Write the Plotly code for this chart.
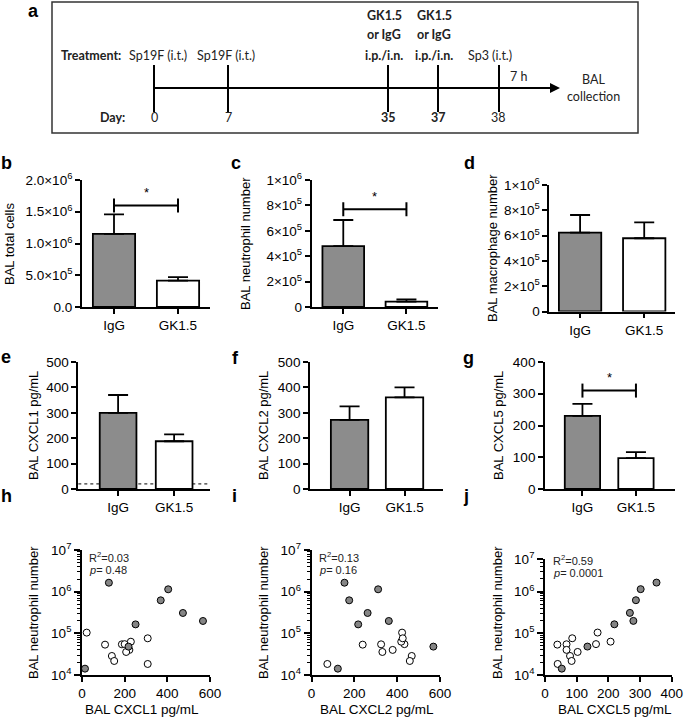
import plotly.graph_objects as go

W, H = 685, 717


def PX(x):
    return x / W


def PY(y):
    return 1 - y / H


FONT = "Liberation Sans, Arial, sans-serif"
FONT_A = "Lato, Open Sans, sans-serif"

# ---------------- data ----------------
groups = ["IgG", "GK1.5"]
bar_fill = ["#8c8c8c", "#ffffff"]

total_cells_mean = [1.15e6, 0.415e6]
total_cells_sem = [0.31e6, 0.055e6]
neutrophil_mean = [0.48e6, 0.042e6]
neutrophil_sem = [0.205e6, 0.018e6]
macrophage_mean = [0.623e6, 0.579e6]
macrophage_sem = [0.14e6, 0.126e6]
cxcl1_mean = [300, 188]
cxcl1_sem = [70, 27]
cxcl2_mean = [272, 361]
cxcl2_sem = [53, 39]
cxcl5_mean = [230, 97]
cxcl5_sem = [38, 19]
cxcl1_detection_limit = 20

# significance brackets (bracket height)
sig_total_cells = 1.6e6
sig_neutrophil = 0.77e6
sig_cxcl5 = 310

# scatter: IgG (filled) and GK1.5 (open) mice
igg_neut = [1.64e6, 1.14e6, 6.2e5, 3.08e5, 1.98e5, 1.64e5, 4.8e4, 1.42e4]
igg_cxcl1 = [126, 404, 369, 473, 567, 251, 218, 14]
igg_cxcl2 = [154, 311, 176, 262, 361, 218, 569, 123]
igg_cxcl5 = [352, 302, 287, 268, 279, 219, 134, 53]

gk_neut = [1.04e5, 5.35e4, 2.86e4, 2.17e4, 5.45e4, 5.5e4, 6.3e4, 4.0e4, 3.57e4, 7.6e4, 1.84e4]
gk_cxcl1 = [22, 108, 140, 151, 187, 200, 229, 222, 207, 308, 308]
gk_cxcl2 = [423, 239, 468, 459, 325, 434, 419, 379, 331, 426, 74]
gk_cxcl5 = [166, 39, 79, 84, 68, 161, 207, 68, 103, 86, 40]

stats_h = ("0.03", "0.48")
stats_i = ("0.13", "0.16")
stats_j = ("0.59", "0.0001")

# timeline (panel a)
timeline_days = ["0", "7", "35", "37", "38"]
timeline_bold = [False, False, True, True, False]
timeline_x = [154, 228, 388, 438, 499]

fig = go.Figure()
layout = dict(
    template="none",
    width=W, height=H, margin=dict(l=0, r=0, t=0, b=0, pad=0), autosize=False,
    paper_bgcolor="white", plot_bgcolor="rgba(0,0,0,0)",
    showlegend=False, font=dict(family=FONT, color="black", size=13.5),
)

shapes = []
annotations = []

AXLINE = 1.8


def base_axis(dom, rng):
    return dict(domain=dom, range=rng, showline=True, linecolor="black", linewidth=AXLINE,
                ticks="outside", ticklen=5, tickwidth=1.5, tickcolor="black",
                showgrid=False, zeroline=False, fixedrange=True, automargin=False,
                tickfont=dict(family=FONT, size=13.5, color="black"))


def sfx(n):
    return "" if n == 1 else str(n)


def note(x, y, text, size, family=FONT, angle=0, xanchor="center", color="black"):
    annotations.append(dict(x=PX(x), y=PY(y), xref="paper", yref="paper", text=text,
                            textangle=angle, showarrow=False, xanchor=xanchor, yanchor="middle",
                            font=dict(size=size, family=family, color=color)))


def bar_panel(n, xpx, ypx, xr, yr, bw, mean, sem, tickvals, ticktext):
    s = sfx(n)
    fig.add_trace(go.Bar(
        x=[0, 1], y=mean, width=bw,
        marker=dict(color=bar_fill, line=dict(color="black", width=1.8)),
        error_y=dict(type="data", array=sem, arrayminus=[0, 0], symmetric=False,
                     color="black", thickness=1.8, width=10),
        xaxis="x" + s, yaxis="y" + s, hoverinfo="skip"))
    xa = base_axis([PX(xpx[0]), PX(xpx[1])], xr)
    xa.update(tickmode="array", tickvals=[0, 1], ticktext=groups, anchor="y" + s)
    ya = base_axis([PY(ypx[1]), PY(ypx[0])], yr)
    ya.update(tickmode="array", tickvals=tickvals, ticktext=ticktext, anchor="x" + s)
    layout["xaxis" + s] = xa
    layout["yaxis" + s] = ya


def sig_bracket(n, yv, shift=13):
    s = sfx(n)
    fig.add_trace(go.Scatter(
        x=[0, 1], y=[yv, yv], mode="lines+markers",
        line=dict(color="black", width=2),
        marker=dict(symbol="line-ns", size=10, line=dict(color="black", width=2)),
        xaxis="x" + s, yaxis="y" + s, hoverinfo="skip"))
    annotations.append(dict(x=0.5, y=yv, xref="x" + s, yref="y" + s, text="*",
                            xanchor="center", yanchor="middle",
                            showarrow=False, yshift=shift, font=dict(size=13)))


def sci(m, e):
    return f"{m}×10<sup>{e}</sup>"


bar_panel(1, (82, 210), (180, 307), [-0.5, 1.5], [0, 2e6], 0.66, total_cells_mean, total_cells_sem,
          [0, 5e5, 1e6, 1.5e6, 2e6], ["0.0", sci("5.0", 5), sci("1.0", 6), sci("1.5", 6), sci("2.0", 6)])
bar_panel(2, (311.7, 438), (180, 307), [-0.5, 1.5], [0, 1e6], 0.66, neutrophil_mean, neutrophil_sem,
          [0, 2e5, 4e5, 6e5, 8e5, 1e6], ["0", sci(2, 5), sci(4, 5), sci(6, 5), sci(8, 5), sci(1, 6)])
bar_panel(3, (549.3, 675), (185, 311.5), [-0.48, 1.48], [0, 1e6], 0.66, macrophage_mean, macrophage_sem,
          [0, 2e5, 4e5, 6e5, 8e5, 1e6], ["0", sci(2, 5), sci(4, 5), sci(6, 5), sci(8, 5), sci(1, 6)])
bar_panel(4, (78.3, 210), (362, 489), [-0.71, 1.64], [0, 500], 0.655, cxcl1_mean, cxcl1_sem,
          [0, 100, 200, 300, 400, 500], ["0", "100", "200", "300", "400", "500"])
bar_panel(5, (310, 443), (362, 489), [-0.72, 1.70], [0, 500], 0.68, cxcl2_mean, cxcl2_sem,
          [0, 100, 200, 300, 400, 500], ["0", "100", "200", "300", "400", "500"])
bar_panel(6, (545, 675), (362, 489), [-0.70, 1.73], [0, 400], 0.66, cxcl5_mean, cxcl5_sem,
          [0, 100, 200, 300, 400], ["0", "100", "200", "300", "400"])

sig_bracket(1, sig_total_cells)
sig_bracket(2, sig_neutrophil)
sig_bracket(6, sig_cxcl5)

# detection limit in panel e
shapes.append(dict(type="line", xref="x4 domain", yref="y4", x0=0, x1=1,
                   y0=cxcl1_detection_limit, y1=cxcl1_detection_limit,
                   line=dict(color="black", width=1, dash="dot"), layer="below"))

# ---------------- scatter panels ----------------
minor_vals = [k * 10 ** e for e in (4, 5, 6) for k in range(2, 10)]


def scatter_panel(n, xpx, ypx, xr, xticks, xigg, xgk, ytop=7.0, toplabel=7):
    s = sfx(n)
    fig.add_trace(go.Scatter(x=xgk, y=gk_neut, mode="markers",
                             marker=dict(size=7, color="white", line=dict(color="black", width=1)),
                             xaxis="x" + s, yaxis="y" + s, hoverinfo="skip"))
    fig.add_trace(go.Scatter(x=xigg, y=igg_neut, mode="markers",
                             marker=dict(size=7, color="#858585", line=dict(color="black", width=1)),
                             xaxis="x" + s, yaxis="y" + s, hoverinfo="skip"))
    xa = base_axis([PX(xpx[0]), PX(xpx[1])], xr)
    xa.update(tickmode="array", tickvals=xticks, ticktext=[str(v) for v in xticks], anchor="y" + s)
    ya = base_axis([PY(ypx[1]), PY(ypx[0])], [4, ytop])
    ya.update(type="log", tickmode="array",
              tickvals=[1e4, 1e5, 1e6, 10 ** ytop],
              ticktext=["10<sup>4</sup>", "10<sup>5</sup>", "10<sup>6</sup>", f"10<sup>{toplabel}</sup>"],
              ticklen=6, anchor="x" + s,
              minor=dict(tickmode="array", tickvals=[v for v in minor_vals if v < 10 ** ytop],
                         ticks="outside", ticklen=3, tickwidth=1, tickcolor="black", showgrid=False))
    layout["xaxis" + s] = xa
    layout["yaxis" + s] = ya


scatter_panel(7, (82, 210), (550, 675), [0, 600], [0, 200, 400, 600], igg_cxcl1, gk_cxcl1)
scatter_panel(8, (311.5, 440), (550, 675), [0, 600], [0, 200, 400, 600], igg_cxcl2, gk_cxcl2)
scatter_panel(9, (545, 671.7), (559, 675), [0, 400], [0, 100, 200, 300, 400], igg_cxcl5, gk_cxcl5, ytop=6.78)


def stat_text(x, y, stats):
    note(x, y, f"R<sup>2</sup>={stats[0]}", 11, xanchor="left", color="#222222")
    note(x, y + 13, f"<i>p</i>= {stats[1]}", 11, xanchor="left", color="#222222")


stat_text(87, 557, stats_h)
stat_text(317, 557, stats_i)
stat_text(551, 560, stats_j)

# ---------------- titles ----------------
for x, y, t in [(9, 244, "BAL total cells"), (245, 244, "BAL neutrophil number"),
                (492, 248, "BAL macrophage number"), (33, 426, "BAL CXCL1 pg/mL"),
                (263, 426, "BAL CXCL2 pg/mL"), (498, 426, "BAL CXCL5 pg/mL"),
                (33, 613, "BAL neutrophil number"), (263, 613, "BAL neutrophil number"),
                (497, 613, "BAL neutrophil number")]:
    note(x, y, t, 13, angle=-90)

for x, y, t in [(142, 709, "BAL CXCL1 pg/mL"), (377, 709, "BAL CXCL2 pg/mL"), (615, 709, "BAL CXCL5 pg/mL")]:
    note(x, y, t, 13.5)

for letter, x, y in [("a", 33, 11), ("b", 6, 163), ("c", 236, 163), ("d", 469, 163),
                     ("e", 6, 357), ("f", 235, 358), ("g", 468, 358),
                     ("h", 6, 496), ("i", 234, 496), ("j", 466, 496)]:
    note(x, y, f"<b>{letter}</b>", 18)

# ---------------- panel a: timeline ----------------
shapes.append(dict(type="rect", xref="paper", yref="paper", x0=PX(52), x1=PX(638), y0=PY(133), y1=PY(2),
                   line=dict(color="#333333", width=1.5)))
shapes.append(dict(type="line", xref="paper", yref="paper", x0=PX(154), x1=PX(552), y0=PY(88), y1=PY(88),
                   line=dict(color="black", width=2)))
annotations.append(dict(x=PX(560), y=PY(88), xref="paper", yref="paper", ax=-30, ay=0, text="",
                        showarrow=True, arrowhead=2, arrowsize=1, arrowwidth=2, arrowcolor="black"))
for xt in timeline_x:
    shapes.append(dict(type="line", xref="paper", yref="paper", x0=PX(xt), x1=PX(xt), y0=PY(65), y1=PY(112),
                       line=dict(color="black", width=2)))


def atext(x, y, text, bold=False, size=12.5):
    note(x, y, f"<b>{text}</b>" if bold else text, size, family=FONT_A, color="#222222")


atext(90.5, 55, "Treatment:", bold=True)
atext(158, 55, "Sp19F (i.t.)")
atext(226, 55, "Sp19F (i.t.)")
for cx in (384, 434):
    atext(cx, 15, "GK1.5", bold=True)
    atext(cx, 35, "or IgG", bold=True)
    atext(cx, 55, "i.p./i.n.", bold=True)
atext(490, 55, "Sp3 (i.t.)")
atext(518, 76, "7 h")
atext(593, 80, "BAL")
atext(593, 97, "collection")
atext(113, 117, "Day:", bold=True)
for d, b, xt in zip(timeline_days, timeline_bold, timeline_x):
    atext(xt, 117, d, bold=b)

layout["shapes"] = shapes
layout["annotations"] = annotations
fig.update_layout(**layout)
fig.write_html("out.html", config={"displayModeBar": False},
               post_script="document.body.style.margin='0px';document.body.style.padding='0px';")
